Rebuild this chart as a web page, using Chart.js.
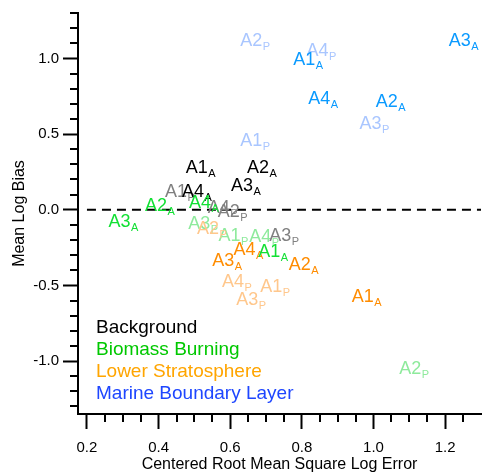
<!DOCTYPE html>
<html>
<head>
<meta charset="utf-8">
<script src="https://cdn.jsdelivr.net/npm/chart.js@4/dist/chart.umd.min.js"></script>
<style>
  html, body { margin: 0; padding: 0; background: #fff; }
  #wrap { width: 482px; height: 473px; }
</style>
</head>
<body>
<div id="wrap"><canvas id="c" width="482" height="473"></canvas></div>
<script>
// ---- Data ----
const pointNames = ['A1', 'A2', 'A3', 'A4'];

// Background
const bgA_x = [0.517, 0.688, 0.643, 0.506];
const bgA_y = [0.285, 0.285, 0.165, 0.125];
const bgP_x = [0.459, 0.606, 0.750, 0.578];
const bgP_y = [0.125, -0.004, -0.165, 0.018];
// Biomass Burning
const bbA_x = [0.719, 0.403, 0.301, 0.526];
const bbA_y = [-0.272, 0.036, -0.070, 0.052];
const bbP_x = [0.608, 1.113, 0.524, 0.694];
const bbP_y = [-0.162, -1.042, -0.087, -0.174];
// Lower Stratosphere
const lsA_x = [0.980, 0.804, 0.591, 0.650];
const lsA_y = [-0.570, -0.357, -0.328, -0.256];
const lsP_x = [0.725, 0.548, 0.658, 0.618];
const lsP_y = [-0.501, -0.120, -0.589, -0.466];
// Marine Boundary Layer
const mbA_x = [0.817, 1.047, 1.251, 0.859];
const mbA_y = [1.000, 0.719, 1.125, 0.742];
const mbP_x = [0.669, 0.669, 1.002, 0.854];
const mbP_y = [0.466, 1.122, 0.574, 1.056];

// zero reference line
const zeroLineX = [0.2, 1.3];
const zeroLineY = [0, 0];

// legend
const legendLabels = ['Background', 'Biomass Burning', 'Lower Stratosphere', 'Marine Boundary Layer'];
const legendColors = ['#000000', '#00c800', '#ffa500', '#1e46ff'];

// axis ticks
const xMajor = [0.2, 0.4, 0.6, 0.8, 1.0, 1.2];
const xMinor = [0.25, 0.3, 0.35, 0.45, 0.5, 0.55, 0.65, 0.7, 0.75, 0.85, 0.9, 0.95, 1.05, 1.1, 1.15, 1.25];
const yMajor = [-1.0, -0.5, 0.0, 0.5, 1.0];
const yMinor = [-1.3, -1.2, -1.1, -0.9, -0.8, -0.7, -0.6, -0.4, -0.3, -0.2, -0.1, 0.1, 0.2, 0.3, 0.4, 0.6, 0.7, 0.8, 0.9, 1.1, 1.2, 1.3];

const FONT = '"Liberation Sans", Arial, Helvetica, sans-serif';

function pts(xs, ys) { return xs.map((x, i) => ({ x: x, y: ys[i] })); }
function labelSet(name, xs, ys, sub, color) {
  return {
    label: name, data: pts(xs, ys), pointRadius: 0, pointHoverRadius: 0,
    showLine: false, labelSub: sub, labelColor: color, backgroundColor: color, borderColor: color
  };
}

const datasets = [
  {
    type: 'line', label: 'zero', data: pts(zeroLineX, zeroLineY),
    borderColor: '#000', borderWidth: 2, borderDash: [9, 6], pointRadius: 0, fill: false, order: 10
  },
  labelSet('BB P', bbP_x, bbP_y, 'P', '#8eea9c'),
  labelSet('LS P', lsP_x, lsP_y, 'P', '#ffc78c'),
  labelSet('MBL P', mbP_x, mbP_y, 'P', '#a9c6ff'),
  labelSet('BG P', bgP_x, bgP_y, 'P', '#808080'),
  labelSet('LS A', lsA_x, lsA_y, 'A', '#ff8c00'),
  labelSet('BG A', bgA_x, bgA_y, 'A', '#000000'),
  labelSet('BB A', bbA_x, bbA_y, 'A', '#12e034'),
  labelSet('MBL A', mbA_x, mbA_y, 'A', '#0a9aff')
];

const textLabelPlugin = {
  id: 'textLabels',
  afterDatasetsDraw(chart) {
    const ctx = chart.ctx;
    ctx.save();
    chart.data.datasets.forEach((ds, di) => {
      if (!ds.labelSub) return;
      const meta = chart.getDatasetMeta(di);
      meta.data.forEach((el, i) => {
        const main = pointNames[i];
        ctx.font = '18px ' + FONT;
        const w1 = ctx.measureText(main).width;
        ctx.font = '11px ' + FONT;
        const w2 = ctx.measureText(ds.labelSub).width;
        const x0 = el.x - (w1 + w2) / 2;
        const base = el.y + 6.4;
        ctx.fillStyle = ds.labelColor;
        ctx.textAlign = 'left';
        ctx.textBaseline = 'alphabetic';
        ctx.font = '18px ' + FONT;
        ctx.fillText(main, x0, base);
        ctx.font = '11px ' + FONT;
        ctx.fillText(ds.labelSub, x0 + w1 + 0.5, base + 4);
      });
    });
    ctx.restore();
  }
};

const extrasPlugin = {
  id: 'extras',
  afterDraw(chart) {
    const ctx = chart.ctx;
    const a = chart.chartArea;
    const xs = chart.scales.x, ys = chart.scales.y;
    ctx.save();
    // minor ticks
    ctx.strokeStyle = '#000';
    ctx.lineWidth = 2;
    ctx.beginPath();
    xMinor.forEach(v => {
      const px = Math.round(xs.getPixelForValue(v));
      ctx.moveTo(px, a.bottom);
      ctx.lineTo(px, a.bottom + 8);
    });
    yMinor.forEach(v => {
      const py = Math.round(ys.getPixelForValue(v));
      ctx.moveTo(a.left, py);
      ctx.lineTo(a.left - 8, py);
    });
    ctx.stroke();
    // legend (text only)
    ctx.font = '19px ' + FONT;
    ctx.textAlign = 'left';
    ctx.textBaseline = 'alphabetic';
    legendLabels.forEach((t, i) => {
      ctx.fillStyle = legendColors[i];
      ctx.fillText(t, a.left + 18, a.bottom - 81.5 + i * 22);
    });
    ctx.restore();
  }
};

Chart.defaults.font.family = FONT;
Chart.defaults.color = '#000';

new Chart(document.getElementById('c'), {
  type: 'scatter',
  data: { datasets: datasets },
  options: {
    responsive: false,
    animation: false,
    events: [],
    layout: { padding: { top: 13, right: 1, left: 0, bottom: 0 } },
    plugins: { legend: { display: false }, tooltip: { enabled: false }, title: { display: false } },
    scales: {
      x: {
        type: 'linear', position: 'bottom', min: 0.175, max: 1.3,
        afterBuildTicks: s => { s.ticks = xMajor.map(v => ({ value: v })); },
        afterFit: s => { s.height = 59; },
        ticks: { font: { size: 15 }, color: '#000', padding: 10, maxRotation: 0, autoSkip: false,
          callback: v => Number(v).toFixed(1) },
        grid: { drawOnChartArea: false, drawTicks: true, tickLength: 15, tickWidth: 2, tickColor: '#000' },
        border: { display: true, color: '#000', width: 2 },
        title: { display: true, text: 'Centered Root Mean Square Log Error', color: '#000',
          font: { size: 16, lineHeight: 1 }, padding: { top: 0, bottom: 0 } }
      },
      y: {
        type: 'linear', position: 'left', min: -1.35, max: 1.3,
        afterBuildTicks: s => { s.ticks = yMajor.map(v => ({ value: v })); },
        afterFit: s => { s.width = 78; },
        ticks: { font: { size: 15 }, color: '#000', padding: 4, autoSkip: false,
          callback: v => Number(v).toFixed(1) },
        grid: { drawOnChartArea: false, drawTicks: true, tickLength: 15, tickWidth: 2, tickColor: '#000' },
        border: { display: true, color: '#000', width: 2 },
        title: { display: true, text: 'Mean Log Bias', color: '#000',
          font: { size: 16, lineHeight: 1 }, padding: { top: 12, bottom: 0 } }
      }
    }
  },
  plugins: [textLabelPlugin, extrasPlugin]
});
</script>
</body>
</html>
